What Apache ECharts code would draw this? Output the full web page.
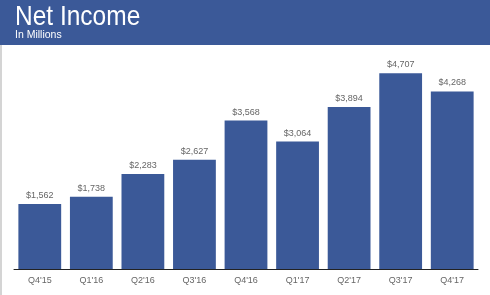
<!DOCTYPE html>
<html><head><meta charset="utf-8">
<script src="https://cdn.jsdelivr.net/npm/echarts@6/dist/echarts.min.js"></script>
<style>html,body{margin:0;padding:0;background:#fff}#c{width:490px;height:295px}</style>
</head><body><div id="c"></div>
<script>
const categories = ["Q4'15","Q1'16","Q2'16","Q3'16","Q4'16","Q1'17","Q2'17","Q3'17","Q4'17"];
const netIncome = [1562,1738,2283,2627,3568,3064,3894,4707,4268];
const titleText = "Net Income";
const subtitleText = "In Millions";

const chart = echarts.init(document.getElementById('c'), null, {renderer:'canvas'});
chart.setOption({
  animation:false,
  backgroundColor:'#fff',
  graphic:[
    {type:'rect', shape:{x:0,y:0,width:490,height:45}, style:{fill:'#3b5998'}, z:-1},
    {type:'rect', shape:{x:0,y:45,width:2,height:250}, style:{fill:'#d4d4d4'}, z:-1},
    {type:'text', x:15, y:3, scaleX:0.875, style:{text:titleText, fill:'#fff', font:'28px "Liberation Sans", Arial, sans-serif'}},
    {type:'text', x:15, y:30, style:{text:subtitleText, fill:'#fff', font:'10.5px "Liberation Sans", Arial, sans-serif'}}
  ],
  grid:{left:14, right:12, top:61, bottom:26, containLabel:false},
  xAxis:{type:'category', data:categories,
    axisLine:{lineStyle:{color:'#222', width:1}},
    axisTick:{show:false},
    axisLabel:{color:'#666', fontSize:9, margin:7, fontFamily:'"Liberation Sans", Arial, sans-serif'}},
  yAxis:{type:'value', min:0, max:5000, show:false, splitLine:{show:false}},
  series:[{type:'bar', data:netIncome, barCategoryGap:'17%',
    itemStyle:{color:'#3b5998'},
    label:{show:true, position:'top', distance:4, color:'#666', fontSize:9,
      fontFamily:'"Liberation Sans", Arial, sans-serif',
      formatter:p=>'$'+p.value.toLocaleString('en-US')}}]
});
</script></body></html>
